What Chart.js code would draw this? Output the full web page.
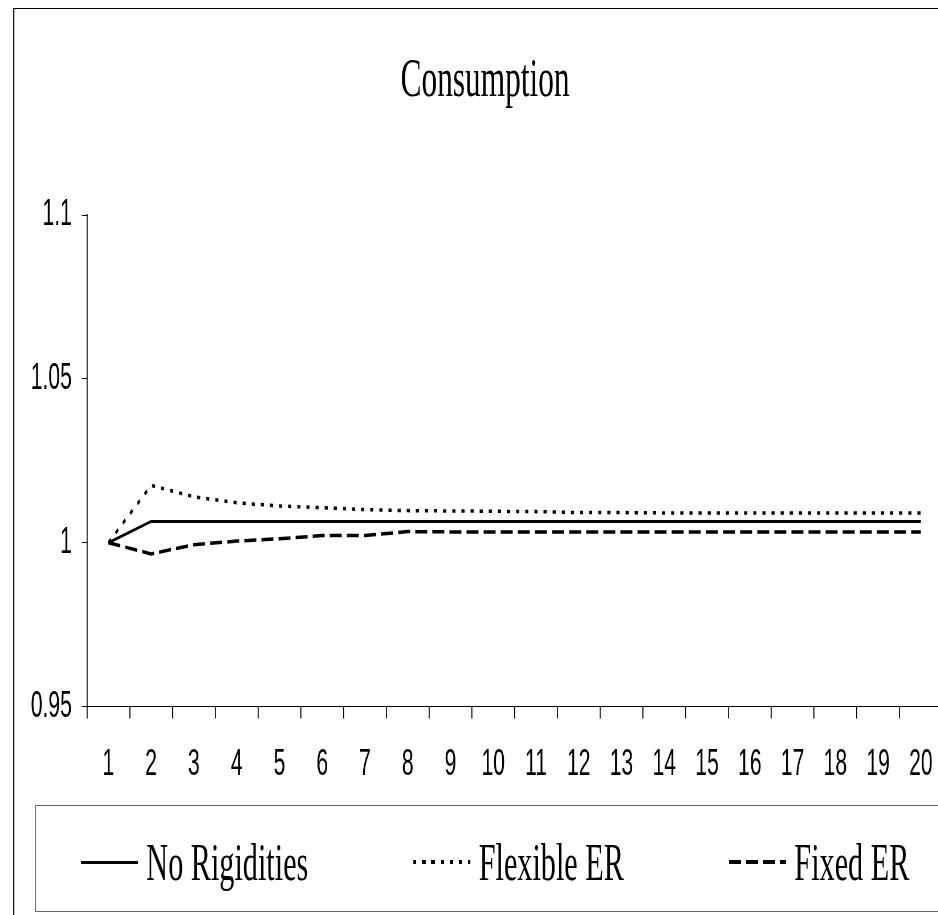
<!DOCTYPE html>
<html lang="en">
<head>
<meta charset="UTF-8">
<title>Consumption</title>
<script src="https://cdn.jsdelivr.net/npm/chart.js"></script>
<style>
  html, body { margin: 0; padding: 0; background: #fff; overflow: hidden; width: 938px; height: 915px; }
  /* the original chart is squeezed horizontally, so draw wide and squash */
  .stage { position: absolute; left: 0; top: 0; width: 1760px; height: 915px; transform: scaleX(0.57); transform-origin: 0 0; }
  .frame { position: absolute; left: 23px; top: 8px; width: 1740px; height: 1000px; border-left: 2.6px solid #000; border-top: 1.5px solid #000; }
  .chart-box { position: absolute; left: 0; top: 0; width: 1714px; height: 915px; }
  .legend { position: absolute; left: 61px; top: 805px; width: 1614px; height: 107px; box-sizing: border-box;
            border: 1.5px solid #666; border-left-width: 2.6px; padding-top: 7px;
            display: flex; align-items: center; justify-content: center; gap: 184px; }
  .legend-item { display: flex; align-items: center; font-family: "Liberation Serif", "Times New Roman", serif; font-size: 53px; line-height: 1; color: #000; white-space: nowrap; }
  .legend-sample { width: 100px; margin-right: 15px; }
</style>
</head>
<body>
<div class="stage">
  <div class="frame"></div>
  <div class="chart-box"><canvas id="consChart"></canvas></div>
  <div class="legend" id="legend"></div>
</div>

<script>
  const periods = ['1', '2', '3', '4', '5', '6', '7', '8', '9', '10',
                   '11', '12', '13', '14', '15', '16', '17', '18', '19', '20'];
  const noRigidities = [1.0, 1.0065, 1.0065, 1.0065, 1.0065, 1.0065, 1.0065, 1.0065, 1.0065, 1.0065,
                        1.0065, 1.0065, 1.0065, 1.0065, 1.0065, 1.0065, 1.0065, 1.0065, 1.0065, 1.0065];
  const flexibleER = [1.0, 1.0175, 1.0140, 1.0122, 1.0112, 1.0107, 1.0101, 1.0098, 1.0097, 1.0096,
                      1.0095, 1.0092, 1.0092, 1.0091, 1.0091, 1.0091, 1.0091, 1.0091, 1.0091, 1.0091];
  const fixedER = [1.0, 0.9966, 0.9994, 1.0005, 1.0012, 1.0022, 1.0022, 1.0034, 1.0033, 1.0033,
                   1.0033, 1.0033, 1.0033, 1.0033, 1.0033, 1.0033, 1.0033, 1.0033, 1.0033, 1.0033];
  const yTicks = [0.95, 1, 1.05, 1.1];

  const axisFont = { family: "'Liberation Sans', Arial, sans-serif", size: 37 };

  const ctx = document.getElementById('consChart').getContext('2d');
  const consChart = new Chart(ctx, {
    type: 'line',
    data: {
      labels: periods,
      datasets: [
        { label: 'No Rigidities', data: noRigidities, borderColor: '#000', borderWidth: 3, borderDash: [] },
        { label: 'Flexible ER', data: flexibleER, borderColor: '#000', borderWidth: 3.5, borderDash: [5.5, 10.5] },
        { label: 'Fixed ER', data: fixedER, borderColor: '#000', borderWidth: 3.5, borderDash: [21, 9] }
      ]
    },
    options: {
      responsive: true,
      maintainAspectRatio: false,
      animation: false,
      events: [],
      elements: { point: { radius: 0 }, line: { tension: 0, borderCapStyle: 'butt' } },
      layout: { padding: { left: 49, right: 61, top: 0, bottom: 104 } },
      plugins: {
        legend: { display: false },
        tooltip: { enabled: false },
        title: {
          display: true,
          text: 'Consumption',
          color: '#000',
          font: { family: "'Liberation Serif', 'Times New Roman', serif", size: 55, weight: 'normal' },
          padding: { top: 49, bottom: 100 }
        }
      },
      scales: {
        x: {
          offset: true,
          grid: { offset: true, drawOnChartArea: false, tickLength: 12, color: '#000', lineWidth: 1.75 },
          border: { color: '#000', width: 1 },
          ticks: { color: '#000', font: axisFont, padding: 24, maxRotation: 0, autoSkip: false }
        },
        y: {
          min: 0.95,
          max: 1.1,
          afterFit: scale => { scale.width = 103.6; },
          afterBuildTicks: scale => { scale.ticks = yTicks.map(v => ({ value: v })); },
          grid: { drawOnChartArea: false, tickLength: 9, color: '#000', lineWidth: 1 },
          border: { color: '#000', width: 1.75 },
          ticks: { color: '#000', font: axisFont, padding: 17.6, callback: v => String(v) }
        }
      }
    }
  });

  // HTML legend built from the chart's own legend items
  function buildLegend(chart) {
    const box = document.getElementById('legend');
    const items = Chart.defaults.plugins.legend.labels.generateLabels(chart);
    items.forEach(item => {
      const el = document.createElement('div');
      el.className = 'legend-item';
      const sample = document.createElement('span');
      sample.className = 'legend-sample';
      sample.style.height = item.lineWidth + 'px';
      const dash = item.lineDash || [];
      if (dash.length) {
        const on = dash[0], period = dash[0] + dash[1];
        sample.style.background = `repeating-linear-gradient(to right, ${item.strokeStyle} 0 ${on}px, transparent ${on}px ${period}px)`;
      } else {
        sample.style.background = item.strokeStyle;
      }
      const text = document.createElement('span');
      text.textContent = item.text;
      el.appendChild(sample);
      el.appendChild(text);
      box.appendChild(el);
    });
  }
  buildLegend(consChart);
</script>
</body>
</html>
